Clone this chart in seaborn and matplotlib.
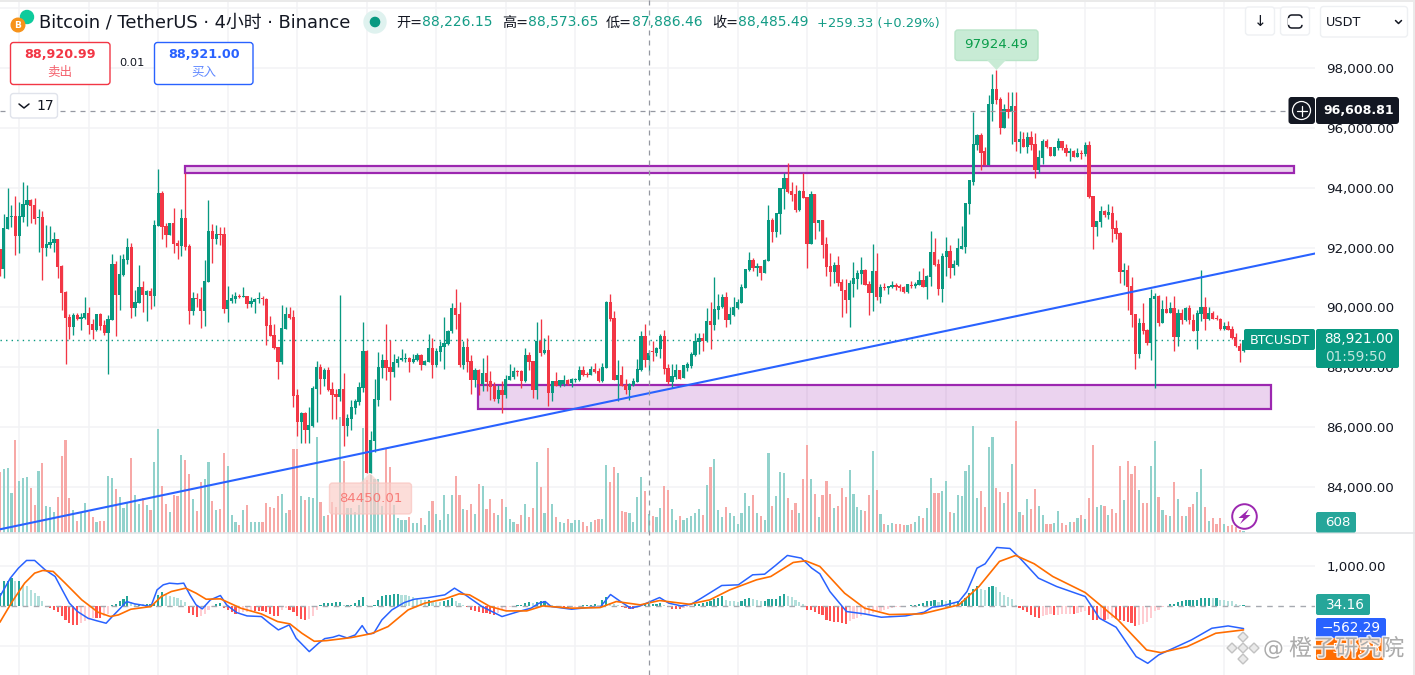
import numpy as np
import seaborn as sns
import matplotlib.pyplot as plt
import matplotlib.patheffects as pe
from matplotlib.patches import Rectangle, Circle, FancyBboxPatch, Polygon

# candles, 4h bars (first one is cut by the left edge)
opens = [91940,91270,92610,93010,93050,92380,93010,93410,93580,93410,
    92980,93010,91980,92080,92140,92280,91370,90510,89670,89340,
    89740,89600,89640,89800,89440,89240,89770,89400,89130,89570,
    91440,90400,91070,91570,92010,89970,90140,90670,90400,90540,
    90370,92710,93810,92710,92410,92810,92140,92040,92980,92040,
    89870,90300,90270,89870,90840,92540,92280,92440,92440,89940,
    90200,90270,90370,90360,90370,90100,90170,90270,90300,90270,
    89400,89070,88670,88170,89270,89770,89670,87060,86160,86460,
    85890,86040,87260,88000,87600,87900,87260,87100,87000,87260,
    86030,86260,86630,86830,87300,88530,84480,85530,86900,87970,
    88230,88000,87830,88130,88230,88270,88300,88170,88230,88400,
    88070,88170,88630,88070,88500,88670,88770,89200,89970,89770,
    88070,88670,88200,87560,87900,87430,87800,87530,87360,86930,
    87230,87060,87560,87660,87870,87870,87530,88400,88200,87230,
    88870,88470,88570,87130,87530,87400,87430,87560,87460,87560,
    87560,87900,87760,87730,87930,87870,87530,87970,90170,89640,
    87560,87730,87400,87230,87400,87500,87900,89030,88226,88530,
    88470,88600,89050,87990,87520,87680,87900,87630,87990,88040,
    88400,88850,88970,88870,89540,89400,89900,90000,90340,89570,
    89740,89970,90140,90640,91240,91570,91310,91370,91140,91540,
    92910,92510,93110,93950,94320,93880,93780,93250,93880,93680,
    92110,93780,92810,92910,92110,91370,91170,91410,90840,90570,
    90240,90770,90940,91110,91240,90770,90470,91210,90340,90670,
    90640,90670,90740,90700,90670,90510,90740,90700,90740,90910,
    90670,91010,91840,91440,90610,91670,91880,91310,91410,91940,
    92010,93450,94210,95420,95750,95220,94750,96790,97290,96960,
    95990,96650,96550,96750,95520,95620,95350,95690,95450,94580,
    94980,95580,95380,95080,95320,95580,95320,95150,95220,95020,
    95180,95120,95420,93710,92680,92840,93210,93080,93150,92640,
    92480,91170,91240,90710,89770,88430,89470,89240,88800,90270,
    90370,89470,89940,89800,89970,89000,89800,89570,89970,89570,
    89200,89770,90000,89600,89800,89640,89600,89270,89370,89270,
    89000,88700,88530]
highs = [91940,93110,93980,93410,93710,93510,94180,94110,93610,93650,
    93280,93210,92740,92710,92510,92280,91410,90540,89770,89800,
    89800,89800,90340,90000,89600,89770,89800,89570,89740,91770,
    91540,91740,91770,92310,92140,90570,91410,90870,90570,90640,
    92910,94620,93880,92810,92810,93310,92240,93280,94500,92110,
    90510,90470,90670,91580,93580,92780,92740,92680,92680,90710,
    90440,90510,90440,90670,90370,90340,90300,90510,90370,90300,
    89700,89440,88670,90070,90000,90000,89900,87260,86490,86490,
    86660,87360,88200,88100,87970,88000,87500,87260,90400,87800,
    86430,86900,86930,87500,89500,88570,85860,87600,88500,88430,
    89440,88900,88430,88370,88600,88470,88330,88430,88470,88430,
    88230,89100,88970,88630,88870,89670,89240,90140,90600,90170,
    88870,88970,88400,87970,87930,88300,88400,87870,87500,87400,
    87530,87730,88100,88000,87900,87900,88630,88500,88200,89500,
    89600,88970,89070,87530,87830,87560,87730,87600,87630,87630,
    88030,88030,87830,88030,88130,87970,88130,90200,90440,89870,
    88230,88030,87600,87460,87630,88270,89200,89440,88574,88870,
    88660,89110,89230,88100,88100,88100,87900,88080,88160,88520,
    89160,89160,89160,89970,90170,91010,90440,90440,90500,90000,
    90340,90270,90770,91270,91840,91640,91470,91370,91610,93410,
    92980,93170,94010,94500,94820,94180,94110,93910,94500,93680,
    93880,93780,92940,92910,92340,91810,91510,91710,90940,90940,
    90910,91510,91240,91670,91270,90870,92110,91810,90770,90810,
    90700,90870,90810,90770,90700,90770,90870,90840,91210,91310,
    91070,92540,92310,91610,91810,92340,92080,91570,92310,92710,
    93480,94250,96520,95790,95820,95350,97090,97790,97924,97020,
    96790,97220,97190,97190,95890,95850,95850,95890,95820,95250,
    95620,95620,95380,95350,95650,95580,95450,95320,95280,95320,
    95280,95520,95550,93710,92880,93380,93250,93450,93380,92910,
    92510,91480,91410,91010,89770,89640,90140,89270,90600,90470,
    90400,90240,90370,90170,90370,89940,89940,90000,90070,89770,
    89900,91240,90340,90000,89870,89740,89640,89500,89540,89370,
    89130,88800,88950]
lows = [91050,90990,92610,92690,91740,91810,92840,92710,92810,92780,
    91840,90910,91710,91980,91840,90970,89900,88100,88930,89070,
    89570,89240,89600,89100,88930,89200,89240,89070,87760,89570,
    89030,89900,91040,91440,89640,89700,90140,89840,89540,89940,
    90040,92710,92280,92010,92410,91810,91610,91710,91910,89440,
    89740,90000,89300,89370,90840,91470,92110,92080,89800,89500,
    90140,90140,90300,90340,89970,90000,89800,90140,90070,88730,
    89030,88600,87600,88100,89270,89600,86660,85700,85480,85480,
    85480,86000,86160,87100,87360,87200,86260,86260,86860,85360,
    85690,85890,86430,86730,87160,84480,84450,85160,86700,87630,
    87560,86900,87660,88000,88200,88170,87830,88130,88200,87900,
    88070,88170,87630,88000,88200,87930,88730,89130,89270,88000,
    87930,87830,87100,87330,87060,87200,87200,86900,86860,86800,
    86460,86960,87560,87600,87700,87300,87500,87900,86960,86930,
    88370,88430,86700,86860,87360,87330,87360,87400,87330,87500,
    87530,87700,87660,87730,87820,87500,87500,87970,89540,87560,
    86860,87360,87100,86900,87360,87500,87870,88000,87886,88200,
    88370,88320,87760,87430,87300,87620,87600,87630,87880,87990,
    88360,88430,88550,88850,88600,89230,89600,89990,89340,89440,
    89700,89940,90140,90640,91210,91210,91040,90910,91140,91540,
    92180,92340,92440,93280,93810,93550,93180,93210,93650,91310,
    92110,92280,92540,91640,91040,90700,90810,90700,89670,89800,
    89340,90340,90610,90770,90740,89740,89870,90240,90140,90570,
    90440,90640,90570,90540,90470,90470,90640,90640,90740,90670,
    90270,90700,91400,90400,90170,91040,90970,91070,91370,91940,
    91810,93110,94080,95280,94580,94750,94750,96250,96790,95790,
    95990,96320,95450,95220,95150,95350,95150,95250,94320,94480,
    94780,95330,95050,95050,95250,95260,95080,94880,95020,95020,
    94950,95080,93650,91940,92380,92680,93010,92950,92180,92280,
    90810,90740,89900,89340,87930,88300,89100,88730,88230,87300,
    89370,89470,89800,89800,88530,88700,89440,89540,89440,89200,
    88600,89540,89240,89570,89600,89570,89240,89240,89240,88930,
    88670,88170,88500]
closes = [91270,92640,93010,93050,92380,93050,93450,93580,93380,92950,
    93010,91980,92110,92180,92280,91340,90470,89640,89340,89740,
    89600,89670,89800,89400,89240,89770,89370,89130,89600,91440,
    90400,91110,91610,92010,89970,90170,90670,90400,90540,90370,
    92740,93810,92680,92410,92810,92110,92040,92980,92010,89870,
    90300,90270,89870,90870,92540,92280,92440,92410,89940,90240,
    90300,90370,90340,90370,90100,90200,90270,90300,90270,89370,
    89030,88630,88170,89300,89770,89640,87030,86160,86460,85890,
    86060,87300,88000,87600,87900,87230,87060,87000,87260,86030,
    86290,86660,86860,87330,88530,84480,85560,86930,88000,88230,
    87970,87830,88170,88270,88300,88300,88170,88270,88400,88070,
    88200,88630,88070,88530,88700,88800,89200,89970,89740,88070,
    88670,88170,87560,87900,87430,87800,87500,87330,86930,87230,
    87060,87600,87700,87870,87830,87530,88400,88170,87230,88870,
    88470,88570,87130,87530,87360,87560,87560,87430,87600,87600,
    87900,87730,87730,87930,87830,87530,88000,90170,89600,87560,
    87730,87360,87230,87430,87530,87930,89030,88230,88485,88500,
    88630,89050,87950,87520,87710,87900,87620,88080,88120,88430,
    88880,88980,88880,89540,89400,89940,90040,90340,89570,89770,
    90000,90170,90670,91270,91570,91310,91370,91140,91570,92910,
    92510,93150,93980,94320,93850,93750,93250,93880,93650,92110,
    93780,92810,92910,92080,91340,91170,91410,90810,90540,90240,
    90810,90970,91140,91240,90740,90470,91210,90340,90670,90640,
    90700,90740,90670,90640,90510,90770,90700,90770,90910,90670,
    91040,91840,91410,90610,91710,91880,91310,91440,91980,92040,
    93480,94250,95450,95750,95180,94750,96790,97290,96920,95990,
    96650,96550,96750,95520,95620,95350,95690,95420,94580,95020,
    95580,95350,95080,95350,95580,95320,95150,95220,95020,95180,
    95120,95420,93680,92680,92880,93210,93080,93180,92610,92440,
    91170,91240,90670,89740,88430,89470,89200,88800,90300,90370,
    89470,89940,89800,89970,89000,89800,89570,89970,89570,89200,
    89800,90000,89600,89800,89600,89600,89270,89370,89240,88970,
    88700,88530,88921]

# volume bars, in hundreds
volume_hundreds = [185,193,195,122,280,157,167,170,135,85,
    187,210,82,78,65,108,232,280,105,70,
    38,62,90,65,48,35,37,37,172,165,
    133,108,75,90,225,115,88,105,85,70,
    213,313,142,88,65,115,112,235,220,178,
    102,68,155,162,213,98,70,73,240,202,
    55,35,25,70,85,35,35,35,35,90,
    78,75,112,118,62,70,252,252,112,100,
    108,105,288,95,52,55,93,78,349,218,
    75,75,65,85,316,160,175,162,162,82,
    256,199,85,45,40,40,50,30,30,45,
    25,68,97,58,40,115,58,115,172,115,
    72,70,88,58,147,142,72,102,60,55,
    103,78,42,35,27,55,88,48,77,213,
    140,60,256,88,50,35,30,42,30,40,
    40,35,22,35,40,42,43,205,155,200,
    180,68,65,60,33,108,
    170,128,58,52,48,76,142,130,73,40,
    52,40,45,52,62,73,55,145,200,223,
    70,50,79,62,52,28,62,122,82,115,
    62,52,40,242,82,112,185,182,106,70,
    92,62,164,265,164,118,49,115,157,118,
    76,82,136,109,190,118,79,70,67,115,
    247,130,58,28,25,31,28,28,25,25,
    28,34,52,46,76,166,121,121,127,157,
    64,61,115,112,187,205,322,106,127,79,
    259,289,136,124,91,124,208,337,64,55,
    103,73,133,82,55,28,28,31,67,31,
    25,34,34,46,55,43,106,265,79,85,
    82,55,73,61,202,100,217,178,202,130,
    91,91,202,277,109,70,55,52,154,103,
    52,52,79,88,124,193,79,37,46,28,
    46,28,22,25,19,10,6]

macd_hist = [336,630,630,714,630,630,546,504,420,336,252,
    143,17,-42,-101,-151,-252,-336,-420,-462,-462,
    -420,-378,-336,-294,-294,-294,-252,-185,25,59,
    134,185,269,101,67,67,50,50,50,50,
    294,353,294,252,235,202,168,101,-168,-227,
    -277,-235,-202,-84,-17,67,84,-42,-101,-151,
    -185,-168,-143,-134,-118,-118,-118,-118,-143,-185,
    -235,-252,-84,-50,-101,-151,-252,-319,-353,-319,
    -235,-84,25,76,84,84,101,101,25,25,
    25,84,151,227,42,-25,42,168,252,277,
    294,302,302,294,286,252,227,185,168,151,
    151,126,118,109,134,168,202,126,84,42,
    -25,-101,-126,-151,-168,-168,-185,-210,-168,-101,
    -84,-25,17,25,25,84,101,84,101,126,
    143,67,25,-17,-25,-34,-34,-25,-8,8,
    34,42,42,50,25,151,235,84,67,34,
    -25,-42,-67,-67,-42,
    42,50,50,59,59,84,42,-17,-59,-76,
    -76,-50,-25,8,50,59,84,109,143,193,
    218,252,168,143,126,118,143,193,210,176,
    151,126,126,185,185,193,252,311,269,235,
    151,118,67,-84,-101,-151,-185,-227,-336,-378,
    -395,-403,-420,-437,-378,-319,-294,-235,-210,-185,
    -168,-151,-118,-84,-59,-34,-25,-8,8,17,
    34,42,50,84,126,143,151,101,151,134,
    151,101,126,143,218,336,437,504,437,403,
    487,504,479,353,294,235,185,25,-50,-101,
    -151,-210,-277,-294,-235,-210,-202,-227,-218,-202,
    -193,-185,-185,-168,-151,-126,-227,-336,-353,-319,
    -336,-319,-294,-311,-336,-378,-403,-420,-487,-462,
    -437,-403,-294,-126,-101,-25,17,67,67,109,
    126,151,160,160,168,202,218,218,210,210,
    168,151,143,126,67,25,34]

# MACD lines: bar position and value at the turning points
dif_bar = [-1,1.7,3.8,5.9,8,10.7,13.3,14.9,17,19.1,21.8,23.9,26.5,28.1,30.2,31.8,33.9,38.1,39.7,41.3,
    42.9,45,46.6,48.2,49.8,51.4,53.5,56.1,57.7,60.3,63,66.7,68.8,71.1,73.9,75.7,79.1,81.5,83.1,85.2,
    86.8,88.9,91,92.8,94.2,95.8,97.9,100.5,103.7,106.3,110,114.2,116.7,119.5,123.8,129,133.3,136.5,138.6,140.2,
    141.7,147,151.2,154.4,157.1,159.7,162.3,164.8,169.8,172.2,175.4,178,180.6,185.9,190.2,193.9,197,199.7,202.9,206.5,
    209.2,211.3,213.9,218.2,222.9,227.2,233.5,238.3,240.4,243,247.3,249.4,252,254.1,257.1,260.5,263.1,267.9,272.6,280,
    283.7,288,293.2,296.2,299,302.2,307.5,312.8,317,321]
dif_val = [244,706,958,1151,1151,916,748,454,76,-134,-302,-361,-428,-260,-50,118,59,-8,412,538,
    580,563,580,286,34,-67,160,269,34,-160,-244,-260,-428,-596,-470,-806,-1142,-932,-815,-781,
    -731,-798,-722,-487,-697,-680,-344,-92,92,176,218,286,454,286,-8,-260,-134,-50,76,118,
    -8,-76,-34,-25,294,118,-50,8,218,76,8,50,202,521,538,790,806,1016,1277,1210,
    958,815,370,-134,-193,-277,-244,-151,-25,8,118,370,958,1067,1478,1453,1210,706,496,244,
    -302,-529,-1268,-1436,-1226,-1084,-848,-554,-496,-562]
dea_bar = [-1,2.2,5.4,8,10.1,12.8,15.9,20.2,24.4,27.6,29.7,32.9,38.1,40.8,43.4,47.1,49.8,52.4,56.1,61.4,
    66.7,70.9,74.1,77.2,80.4,83.6,89.9,95.2,99.5,104.7,109,114.2,117.9,120.6,125.9,130.1,135.4,139.6,147,154.4,
    158.6,164.8,169.8,177.5,182.8,188,194.9,198.6,204.4,207.6,211.3,217.7,222.9,229.3,237.7,247.3,252.5,257.8,262,266.8,
    271.6,280,288.5,295.9,299.6,306.4,313.8,321]
dea_val = [-403,118,580,832,899,874,580,160,-151,-260,-218,-76,-8,244,370,454,328,176,185,-50,
    -193,-386,-445,-680,-882,-865,-790,-689,-512,-92,76,185,311,286,-8,-118,-118,8,-50,-34,
    118,34,143,50,160,412,664,748,1100,1142,1000,328,-50,-210,-193,34,496,1126,1277,1067,
    748,344,-344,-1100,-1168,-1016,-680,-596]

price_ticks = [84000,86000,88000,90000,92000,94000,96000,98000]
macd_ticks = [-1000,1000]
grid_bars = [4,22,40,58,76,94,112,130,148,172,190,208,226,244,262,280,298,316]
last_price = 88921
trend_bar = [-1,339.5]
trend_price = [82580,91803]

sns.set_theme(style="white")
plt.rcParams['font.family'] = ['DejaVu Sans', 'Noto Sans CJK SC']
plt.rcParams['axes.unicode_minus'] = True

GREEN, RED = '#089981', '#f23645'
GRID = '#f2f3f5'
INK = '#131722'

W, H = 1415, 675
PANE = 533.3
RIGHT = 1315
fig = plt.figure(figsize=(W/100, H/100), dpi=100, facecolor='white')

def pane_axes(top, bottom, z):
    ax = fig.add_axes([0, 1-bottom/H, RIGHT/W, (bottom-top)/H])
    ax.set_zorder(z)
    ax.patch.set_visible(False)
    for s in ax.spines.values():
        s.set_visible(False)
    return ax

ax_grid = pane_axes(0, PANE, 0)
ax_vol = pane_axes(0, PANE, 1)
ax_price = pane_axes(0, PANE, 2)
ax_macd = pane_axes(PANE, H, 1)

bars = np.arange(-1, 322)
o, h, l, c = map(np.array, (opens, highs, lows, closes))
up = c >= o

# grid and price scale
xlim = (-0.971, 339.5)
plim = (82447, 100280)
ax_grid.set_xlim(xlim)
ax_grid.set_ylim(plim)
for b in grid_bars:
    ax_grid.axvline(b, color=GRID, lw=1.1)
    ax_macd.axvline(b, color=GRID, lw=1.1, zorder=0)
for p in price_ticks + [100000]:
    ax_grid.axhline(p, color=GRID, lw=1.1)
ax_grid.set_xticks([])
ax_grid.yaxis.tick_right()
ax_grid.set_yticks(price_ticks, [f'{p:,.2f}' for p in price_ticks])
ax_grid.tick_params(axis='y', length=0, pad=8, labelsize=9.6, labelcolor=INK)

# volume
vol_colors = np.where(up, '#92d2cc', '#f7a9a7')
sns.barplot(x=bars, y=volume_hundreds, hue=vol_colors, palette={'#92d2cc': '#92d2cc', '#f7a9a7': '#f7a9a7'},
            native_scale=True, dodge=False, width=0.56, saturation=1, linewidth=0,
            errorbar=None, legend=False, ax=ax_vol)
ax_vol.set_xlim(xlim)
ax_vol.set_ylim(0, PANE*3)
ax_vol.set_axis_off()

# candles and drawings
ax_price.set_xlim(xlim)
ax_price.set_ylim(plim)
ax_price.set_axis_off()
ax_price.add_patch(Rectangle((46.8, 94495), 287.2, 234, fc='#9c27b033', ec='#9c27b0', lw=1.6, zorder=2))
ax_price.add_patch(Rectangle((122.8, 86603), 205.3, 803, fc='#9c27b033', ec='#9c27b0', lw=1.6, zorder=2))
ax_price.axhline(last_price, color=GREEN, lw=1, ls=(0, (1, 3)), zorder=2)
colors = np.where(up, GREEN, RED)
ax_price.vlines(bars, l, h, colors=colors, lw=0.95, zorder=3)
ax_price.bar(bars, np.maximum(np.abs(c-o), 30), bottom=np.minimum(o, c), width=0.84, color=colors, lw=0, zorder=4)
sns.lineplot(x=trend_bar, y=trend_price, color='#2962ff', lw=1.5, ax=ax_price, zorder=5)
ax_price.set_xlim(xlim)
ax_price.set_ylim(plim)

# MACD pane
hist = np.array(macd_hist)
prev = np.r_[hist[0], hist[:-1]]
hist_colors = np.where(hist >= 0, np.where(hist >= prev, '#26a69a', '#b2dfdb'),
                       np.where(hist <= prev, '#ff5252', '#ffcdd2'))
sns.barplot(x=bars, y=hist, hue=hist_colors,
            palette={k: k for k in ['#26a69a', '#b2dfdb', '#ff5252', '#ffcdd2']},
            native_scale=True, dodge=False, width=0.56, saturation=1, linewidth=0,
            errorbar=None, legend=False, ax=ax_macd)
ax_macd.axhline(0, color='#a6a9b0', lw=1, ls=(0, (4, 4)), zorder=1)
sns.lineplot(x=dif_bar, y=dif_val, color='#2962ff', lw=1.1, ax=ax_macd, zorder=4, sort=False)
sns.lineplot(x=dea_bar, y=dea_val, color='#ff6d00', lw=1.2, ax=ax_macd, zorder=5, sort=False)
for p in macd_ticks:
    ax_macd.axhline(p, color=GRID, lw=1.1, zorder=0)
ax_macd.set_xlim(xlim)
ax_macd.set_ylim(-1730, 1834)
ax_macd.set_xticks([])
ax_macd.set_xlabel('')
ax_macd.yaxis.tick_right()
ax_macd.set_yticks(macd_ticks, ['\u22121,000.00', '1,000.00'])
ax_macd.tick_params(axis='y', length=0, pad=8, labelsize=9.6, labelcolor=INK)

# everything around the chart, laid out in pixels
ui = fig.add_axes([0, 0, 1, 1], zorder=10)
ui.set_xlim(0, W)
ui.set_ylim(H, 0)
ui.set_axis_off()

def box(x0, y0, x1, y1, fc='white', ec='none', r=3, lw=1, **kw):
    ui.add_patch(FancyBboxPatch((x0, y0), x1-x0, y1-y0, boxstyle=f'round,pad=0,rounding_size={r}',
                                fc=fc, ec=ec, lw=lw, **kw))

def txt(x, y, s, size=10, color=INK, ha='left', **kw):
    ui.text(x, y, s, fontsize=size, color=color, ha=ha, va='center', **kw)

ui.plot([0, W], [0.5, 0.5], color='#eaeaea', lw=1.4)
ui.plot([1414, 1414], [0, H], color='#eaeaea', lw=1.4)
ui.plot([0, W], [PANE, PANE], color='#e4e5e8', lw=1.2)

# crosshair
ui.plot([649, 649], [0, H], color='#9598a1', lw=0.9, ls=(0, (4, 4)))
ui.plot([0, 1288], [110.5, 110.5], color='#9598a1', lw=0.9, ls=(0, (4, 4)))

# header
ui.add_patch(Circle((27, 17), 6.5, color='#0ecb9c'))
ui.add_patch(Circle((18, 25), 6.8, color='#f7931a'))
txt(18, 25, 'B', size=6.5, color='white', ha='center', fontweight='bold')
txt(39, 22.5, 'Bitcoin / TetherUS · 4小时 · Binance', size=12.9)
ui.add_patch(Circle((375, 22), 11, color='#dff2ef'))
ui.add_patch(Circle((375, 22), 4.6, color=GREEN))
TEAL = '#149c86'
for x, label in [(396, '开='), (502, '高='), (606, '低='), (712, '收=')]:
    txt(x, 22.5, label, size=10.2)
for x, label in [(422, '88,226.15'), (528, '88,573.65'), (632, '87,886.46'), (738, '88,485.49')]:
    txt(x, 22.5, label, size=10, color=TEAL)
txt(817, 24, '+259.33 (+0.29%)', size=9.4, color=TEAL)

# buy and sell
box(10.5, 42.5, 110, 84.5, ec='#f23645')
txt(60, 55, '88,920.99', size=9.2, color='#f23645', ha='center', fontweight='bold')
txt(60, 72.5, '卖出', size=9, color='#f4606c', ha='center')
txt(132, 62.5, '0.01', size=8.2, ha='center')
box(154.5, 42.5, 253, 84.5, ec='#2962ff')
txt(204, 55, '88,921.00', size=9.2, color='#2962ff', ha='center', fontweight='bold')
txt(204, 72.5, '买入', size=9, color='#5f88ff', ha='center')
box(10.5, 93.5, 57.5, 118, ec='#e0e3eb', zorder=3)
ui.plot([19, 24, 29], [104, 108, 104], color=INK, lw=1.1, zorder=4)
txt(36, 106, '17', size=10, zorder=4)

# top right buttons
box(1245.5, 7, 1274.5, 35, ec='#eef0f3')
txt(1260, 21.5, '↓', size=11, ha='center')
box(1280.5, 7, 1309.5, 35, ec='#eef0f3')
box(1288.5, 15, 1302, 28, fc='none', ec=INK, r=3.5, lw=1.1)
ui.plot([1288.5, 1288.5], [19, 24], color='white', lw=1.6)
ui.plot([1302, 1302], [19, 24], color='white', lw=1.6)
box(1320.5, 6.5, 1407.5, 37, ec='#eef0f3')
txt(1326, 22.5, 'USDT', size=9.2)
ui.plot([1395.5, 1398.5, 1401.5], [20.5, 23.5, 20.5], color=INK, lw=1.1)

# tooltips on the high and low
box(955, 30, 1038, 60.5, fc='#c8ebd5', ec='#b8e4c8', zorder=5)
ui.add_patch(Polygon([(987, 60), (1006, 60), (996.5, 70)], fc='#c8ebd5', ec='none', zorder=5))
txt(996.5, 45, '97924.49', size=9.6, color='#0a9d4a', ha='center', zorder=6)
box(329.5, 483, 411.5, 514, fc='#fbcfca', ec='#f9c4bf', alpha=0.7, zorder=5)
ui.add_patch(Polygon([(360, 483), (380, 483), (370, 473)], fc='#fbcfca', ec='none', alpha=0.7, zorder=5))
txt(370.5, 498, '84450.01', size=9.6, color='#f77c78', ha='center', zorder=6)

# scale labels
box(1316, 97, 1399, 124, fc=INK, zorder=5)
txt(1359, 110.5, '96,608.81', size=9.1, color='white', ha='center', fontweight='bold', zorder=6)
box(1288.5, 97, 1315, 124, fc=INK, zorder=5)
ui.add_patch(Circle((1301.5, 110.5), 9, fc='none', ec='white', lw=0.9, zorder=6))
ui.plot([1296.5, 1306.5], [110.5, 110.5], color='white', lw=0.9, zorder=6)
ui.plot([1301.5, 1301.5], [105.5, 115.5], color='white', lw=0.9, zorder=6)

box(1244, 329, 1315, 350, fc=GREEN, r=2, zorder=5)
txt(1279.5, 340, 'BTCUSDT', size=9.2, color='white', ha='center', zorder=6)
box(1316, 329, 1399, 368, fc=GREEN, r=2, zorder=5)
txt(1359, 339, '88,921.00', size=9.8, color='white', ha='center', zorder=6)
txt(1356, 357, '01:59:50', size=9.8, color='#c3e6df', ha='center', zorder=6)

box(1316, 512, 1356, 532.5, fc='#26a69a', r=2, zorder=5)
txt(1338, 522.5, '608', size=9.6, color='white', ha='center', zorder=6)
box(1316, 594, 1370, 615, fc='#26a69a', r=2, zorder=5)
txt(1345, 605, '34.16', size=9.8, color='white', ha='center', zorder=6)
box(1316, 618, 1386, 638, fc='#2962ff', r=2, zorder=5)
txt(1351, 628.5, '\u2212562.29', size=9.8, color='white', ha='center', zorder=6)
box(1316, 638, 1384, 660, fc='#ff6d00', r=2, zorder=5)
txt(1351, 649, '\u2212596.45', size=9.8, color='white', ha='center', zorder=6)

# bolt badge
ui.add_patch(Circle((1244.5, 516.5), 12.3, fc='white', ec='#9c27b0', lw=1.4, zorder=5))
ui.add_patch(Polygon([(1249, 509), (1238.5, 518), (1243.5, 518), (1240, 524), (1250.5, 515), (1245.5, 515)],
                     fc='#9c27b0', ec='none', zorder=6))

# watermark
halo = [pe.withStroke(linewidth=2.2, foreground=(1, 1, 1, 0.8))]
for dx, dy in [(0, -11), (-11, 0), (11, 0), (0, 11), (0, 0)]:
    cx, cy = 1243 + dx, 648 + dy
    ui.add_patch(Polygon([(cx-5, cy), (cx, cy-5), (cx+5, cy), (cx, cy+5)], fc='#e8e8e8', ec='#bdbdbd',
                         lw=1, alpha=0.9, zorder=7))
ui.text(1263, 649, '@', fontsize=15, color='#9f9f9f', ha='left', va='center', alpha=0.85, zorder=7, path_effects=halo)
ui.text(1289, 649, '橙子研究院', fontsize=16.6, color='#9f9f9f', ha='left', va='center', alpha=0.85, zorder=7,
        path_effects=halo)

fig.savefig('out.png', dpi=100)
